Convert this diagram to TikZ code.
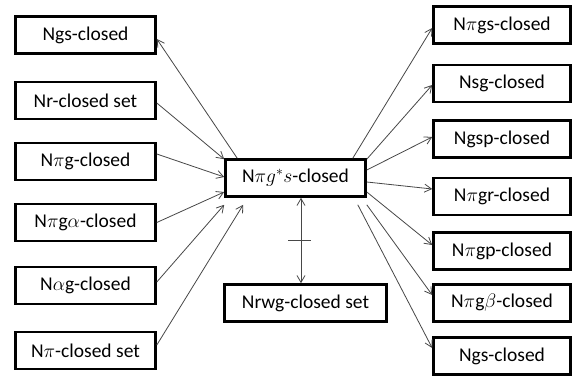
\RequirePackage{fix-cm}
\documentclass[tikz,border=0pt]{standalone}
\usepackage{fontspec}
\setmainfont{Carlito}
\usetikzlibrary{arrows.meta,calc}
\begin{document}
\begin{tikzpicture}[x=1pt,y=-1pt,
 box/.style={draw=black, line width=2.6pt, fill=white, minimum width=140pt, minimum height=37pt, inner sep=0pt, font=\fontsize{19.5}{23}\selectfont},
 rbox/.style={box, minimum width=137pt},
 conn/.style={draw=black!72, line width=0.8pt, -{Straight Barb[angle=60:8pt]}},
 biconn/.style={draw=black!72, line width=0.8pt, {Straight Barb[angle=60:8pt]}-{Straight Barb[angle=60:8pt]}},
 tickline/.style={draw=black!72, line width=0.8pt},
]
\useasboundingbox[fill=white] (0,0) rectangle (574,377);
% left column
\node[box] (L1) at (85.5,35) {Ngs-closed};
\node[box] (L2) at (85.5,100.5) {Nr-closed set};
\node[box] (L3) at (85.5,161.5) {N$\pi$g-closed};
\node[box] (L4) at (85.5,222.5) {N$\pi$g$\alpha$-closed};
\node[box] (L5) at (85.5,285.5) {N$\alpha$g-closed};
\node[box] (L6) at (85.5,350.5) {N$\pi$-closed set};
% right column
\node[rbox] (R1) at (502,25) {N$\pi$gs-closed};
\node[rbox] (R2) at (502,83.5) {Nsg-closed};
\node[rbox] (R3) at (502,139) {Ngsp-closed};
\node[rbox] (R4) at (502,196.5) {N$\pi$gr-closed};
\node[rbox] (R5) at (502,251) {N$\pi$gp-closed};
\node[rbox] (R6) at (502,303) {N$\pi$g$\beta$-closed};
\node[rbox] (R7) at (502,356) {Ngs-closed};
% centre
\node[box] (C) at (295.5,178) {N$\pi g^{*}s$-closed};
\node[box, minimum width=162pt] (B) at (305.5,303) {Nrwg-closed set};
% left connectors
\draw[conn] ($(C.north west)+(13,0)$) -- ($(L1.east)+(0,4)$);
\draw[conn] ($(L2.east)+(0,2.5)$) -- ($(C.north west)+(0,1)$);
\draw[conn] ($(L3.east)+(0,-7.5)$) -- ($(C.west)+(0,-1)$);
\draw[conn] (L4.east) -- ($(C.west)+(0,14)$);
\draw[conn] ($(L5.east)+(0,-3.5)$) -- ($(C.south west)+(0,7)$);
\draw[conn] ($(L6.east)+(0,-5.5)$) -- ($(C.south west)+(19,7)$);
% right connectors
\draw[conn] ($(C.north east)+(-14,0)$) -- ($(R1.west)+(0,3)$);
\draw[conn] ($(C.north east)+(0,1)$) -- ($(R2.west)+(0,1.5)$);
\draw[conn] ($(C.east)+(0,-8)$) -- ($(R3.west)+(0,-2)$);
\draw[conn] ($(C.east)+(0,4)$) -- ($(R4.west)+(0,-7.5)$);
\draw[conn] ($(C.east)+(0,14)$) -- ($(R5.west)+(0,-6)$);
\draw[conn] ($(C.south east)+(0,7)$) -- ($(R6.west)+(0,-8)$);
\draw[conn] ($(C.south east)+(-9,7)$) -- ($(R7.west)+(0,-8)$);
% double arrow with tick
\coordinate (ax) at (301,0);
\coordinate (da1) at (C.south -| ax);
\coordinate (da2) at (B.north -| ax);
\draw[biconn] (da1) -- (da2);
\coordinate (tk) at ($(da1)!0.5!(da2)$);
\draw[tickline] ($(tk)+(-13,0)$) -- ($(tk)+(10,0)$);
\end{tikzpicture}
\end{document}
